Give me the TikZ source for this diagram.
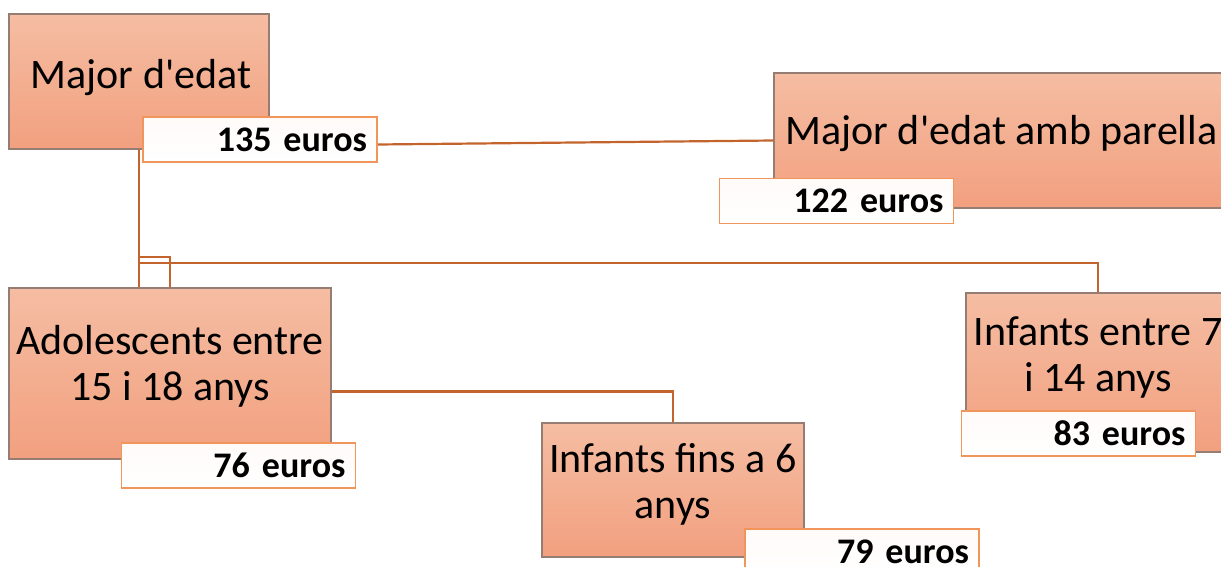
\documentclass[tikz,border=0pt]{standalone}
\usepackage{fontspec}
\setmainfont{Carlito}
\usetikzlibrary{backgrounds}
\definecolor{boxtop}{RGB}{245,189,163}
\definecolor{boxbot}{RGB}{242,160,127}
\definecolor{boxline}{RGB}{150,125,115}
\definecolor{tagline}{RGB}{240,150,90}
\definecolor{linkcol}{RGB}{196,100,45}
\tikzset{
  agebox/.style={draw=boxline, line width=1.5pt, top color=boxtop, bottom color=boxbot, inner sep=0pt},
  agetext/.style={align=center, font=\fontsize{42}{46}\selectfont, inner sep=0pt},
  eurobox/.style={draw=tagline, line width=1.5pt, top color=white!93!boxtop, bottom color=white,
    minimum width=234pt, minimum height=45pt, text width=214pt, align=right,
    font=\fontsize{36}{40}\selectfont\bfseries, inner sep=0pt},
  link/.style={draw=linkcol, line width=2.2pt}
}
\begin{document}
\begin{tikzpicture}[x=1pt,y=-1pt]
\useasboundingbox (0,0) rectangle (1221,567);
\clip (0,0) rectangle (1221,567);

% age groups
\node[agebox, minimum width=260pt, minimum height=135pt] (major) at (139,81.5) {};
\node[agebox, minimum width=455pt, minimum height=135pt] (parella) at (1001.5,140.5) {};
\node[agebox, minimum width=322pt, minimum height=171pt] (adol) at (170,373.5) {};
\node[agebox, minimum width=262pt, minimum height=134pt] (fins6) at (673,490) {};
\node[agebox, minimum width=264pt, minimum height=159pt] (entre7) at (1098,372.5) {};

% texts
\node[agetext] (majortxt) at (141,78) {Major d\textquotesingle edat};
\node[agetext] (parellatxt) at (1001.5,134) {Major d\textquotesingle edat amb parella};
\node[agetext] (adoltxt) at (170,366) {Adolescents entre\\15 i 18 anys};
\node[agetext] (fins6txt) at (673,484) {Infants fins a 6\\anys};
\node[agetext] (entre7txt) at (1098,357) {Infants entre 7\\i 14 anys};

% amounts
\node[eurobox] (t135) at (260,139.5) {135 euros};
\node[eurobox] (t122) at (836.5,201) {122 euros};
\node[eurobox] (t76) at (238.5,465.5) {76 euros};
\node[eurobox] (t79) at (862,551.5) {79 euros};
\node[eurobox] (t83) at (1078.5,433.5) {83 euros};

% connectors
\coordinate (fork) at (140,257);
\coordinate (bus) at (140,263);
\begin{pgfonlayer}{background}
\draw[link] ([yshift=-5pt]t135.east) -- (parella.west);
\draw[link] (major.south) -- (major.south |- adol.north);
\draw[link] (major.south |- fork) -| (adol.north);
\draw[link] (major.south |- bus) -| (entre7.north);
\draw[link] ([yshift=-18pt]adol.east) -| (fins6.north);
\end{pgfonlayer}
\end{tikzpicture}
\end{document}
